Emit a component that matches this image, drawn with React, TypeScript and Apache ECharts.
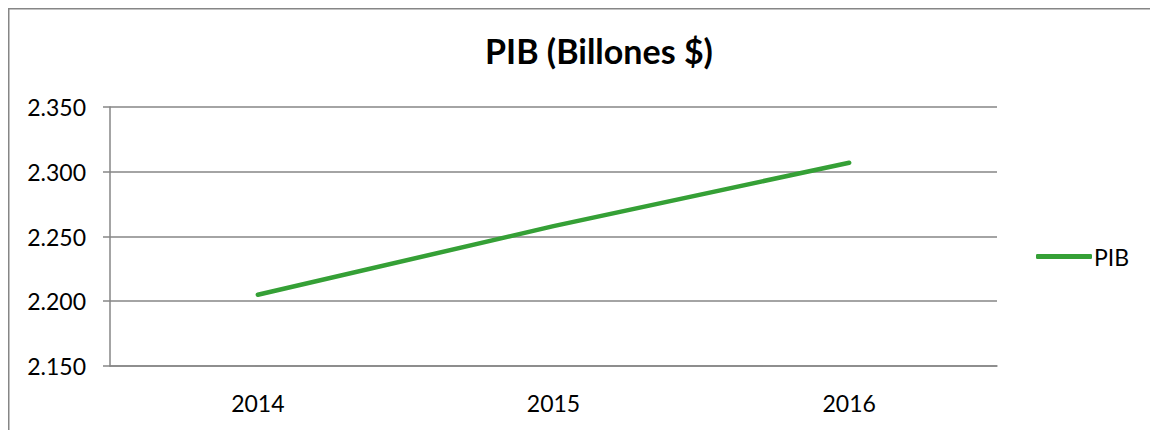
import React, { useEffect, useRef } from "react";
import * as echarts from "echarts";

const years = ["2014", "2015", "2016"];
const pib = [2.205, 2.258, 2.307];
const yMin = 2.15;
const yMax = 2.35;
const yStep = 0.05;

export default function App() {
  const ref = useRef<HTMLDivElement>(null);
  useEffect(() => {
    document.body.style.overflow = "hidden";
    if (!ref.current) return;
    const chart = echarts.init(ref.current, undefined, { renderer: "svg" });
    const gray = "#868686";
    chart.setOption({
      animation: false,
      backgroundColor: "#ffffff",
      textStyle: { fontFamily: "Lato" },
      title: {
        text: "PIB (Billones $)",
        left: 586,
        top: 20,
        textAlign: "center",
        textStyle: { fontFamily: "Lato", fontWeight: "bold", fontSize: 34, color: "#000" },
      },
      legend: {
        data: [{ name: "PIB", icon: "roundRect" }],
        orient: "vertical",
        left: 1023,
        top: 232,
        itemWidth: 56,
        itemHeight: 5,
        itemGap: 0,
        textStyle: { fontFamily: "Lato", fontSize: 23, color: "#000", padding: [0, 0, 0, -3] },
      },
      grid: { left: 102, right: 153, top: 99, bottom: 64, containLabel: false },
      xAxis: {
        type: "category",
        data: years,
        boundaryGap: true,
        axisLine: { lineStyle: { color: gray, width: 1.5 } },
        axisTick: { length: 8, lineStyle: { color: gray, width: 1.5 } },
        axisLabel: { margin: 25, fontSize: 23, color: "#000", fontFamily: "Lato" },
      },
      yAxis: {
        type: "value",
        min: yMin,
        max: yMax,
        interval: yStep,
        axisLine: { show: true, lineStyle: { color: gray, width: 1.5 } },
        axisTick: { show: true, length: 7, lineStyle: { color: gray, width: 1.5 } },
        splitLine: { lineStyle: { color: gray, width: 1.5 } },
        axisLabel: {
          margin: 24,
          fontSize: 23,
          color: "#000",
          fontFamily: "Lato",
          formatter: (v: number) => v.toFixed(3),
        },
      },
      series: [
        {
          name: "PIB",
          type: "line",
          data: pib,
          showSymbol: false,
          symbol: "none",
          itemStyle: { color: "#35A036" },
          lineStyle: { color: "#35A036", width: 4.5, cap: "round" },
        },
      ],
      graphic: [
        { type: "line", shape: { x1: 0.75, y1: 0, x2: 0.75, y2: 422 }, style: { stroke: gray, lineWidth: 1.5 } },
        { type: "line", shape: { x1: 0, y1: 0.75, x2: 1142, y2: 0.75 }, style: { stroke: gray, lineWidth: 1.5 } },
      ],
    });
    return () => chart.dispose();
  }, []);
  return (
    <div
      ref={ref}
      style={{ position: "absolute", left: 8, top: 8, width: 1142, height: 422 }}
    />
  );
}
